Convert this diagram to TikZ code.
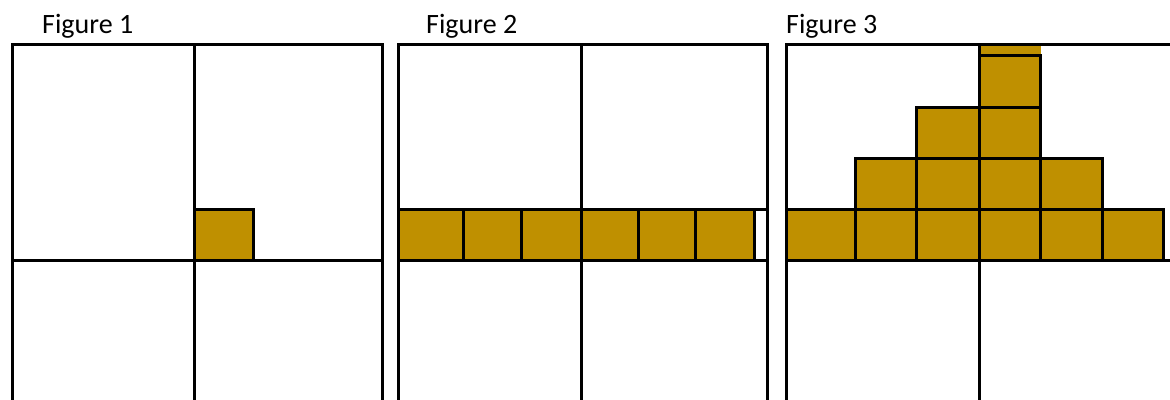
\documentclass[tikz,border=0pt]{standalone}
\usepackage{fontspec}
\setmainfont{Carlito}
\definecolor{tilegold}{RGB}{191,144,0}
\tikzset{
    axisline/.style={draw=black, line width=3pt},
    tile/.style={fill=tilegold, draw=black, line width=3pt},
    figlabel/.style={anchor=base west, inner sep=0pt, font=\fontsize{28}{32}\selectfont},
}

\begin{document}
\begin{tikzpicture}[x=1pt, y=-1pt]
    \useasboundingbox (0,0) rectangle (1170,399);
    \clip (0,0) rectangle (1170,399);

    % Figure 1
    \node[figlabel] (lab1) at (42,33.5) {Figure 1};
    \draw[tile] (194.5,209.3) rectangle (253.5,260);
    \draw[axisline] (12.5,44) rectangle (382.5,420);
    \draw[axisline] (194.5,44) -- (194.5,420);
    \draw[axisline] (12.5,260) -- (382.5,260);

    % Figure 2
    \node[figlabel] (lab2) at (426,33.5) {Figure 2};
    \foreach \xa/\xb in {398.5/463.3, 463.3/521.3, 521.3/581, 581/638.7, 638.7/695.7, 695.7/754.5}
        \draw[tile] (\xa,209.3) rectangle (\xb,260);
    \draw[axisline] (398.5,209.3) -- (767.7,209.3);
    \draw[axisline] (398.5,44) rectangle (767.7,420);
    \draw[axisline] (581,44) -- (581,420);
    \draw[axisline] (398.5,260) -- (767.7,260);

    % Figure 3
    \node[figlabel] (lab3) at (786,33.5) {Figure 3};
    \fill[tilegold] (979,44) rectangle (1040.7,55.5);
    \foreach \xa/\xb in {786.5/855.3, 855.3/916, 916/979, 979/1040.7, 1040.7/1102.3, 1102.3/1163.3}
        \draw[tile] (\xa,209.3) rectangle (\xb,260);
    \foreach \xa/\xb in {855.3/916, 916/979, 979/1040.7, 1040.7/1102.3}
        \draw[tile] (\xa,158.3) rectangle (\xb,209.3);
    \foreach \xa/\xb in {916/979, 979/1040.7}
        \draw[tile] (\xa,107.3) rectangle (\xb,158.3);
    \draw[tile] (979,55.5) rectangle (1040.7,107.3);
    \draw[axisline] (786.5,44) rectangle (1190,420);
    \draw[axisline] (979,44) -- (979,420);
    \draw[axisline] (786.5,260) -- (1190,260);
\end{tikzpicture}
\end{document}
